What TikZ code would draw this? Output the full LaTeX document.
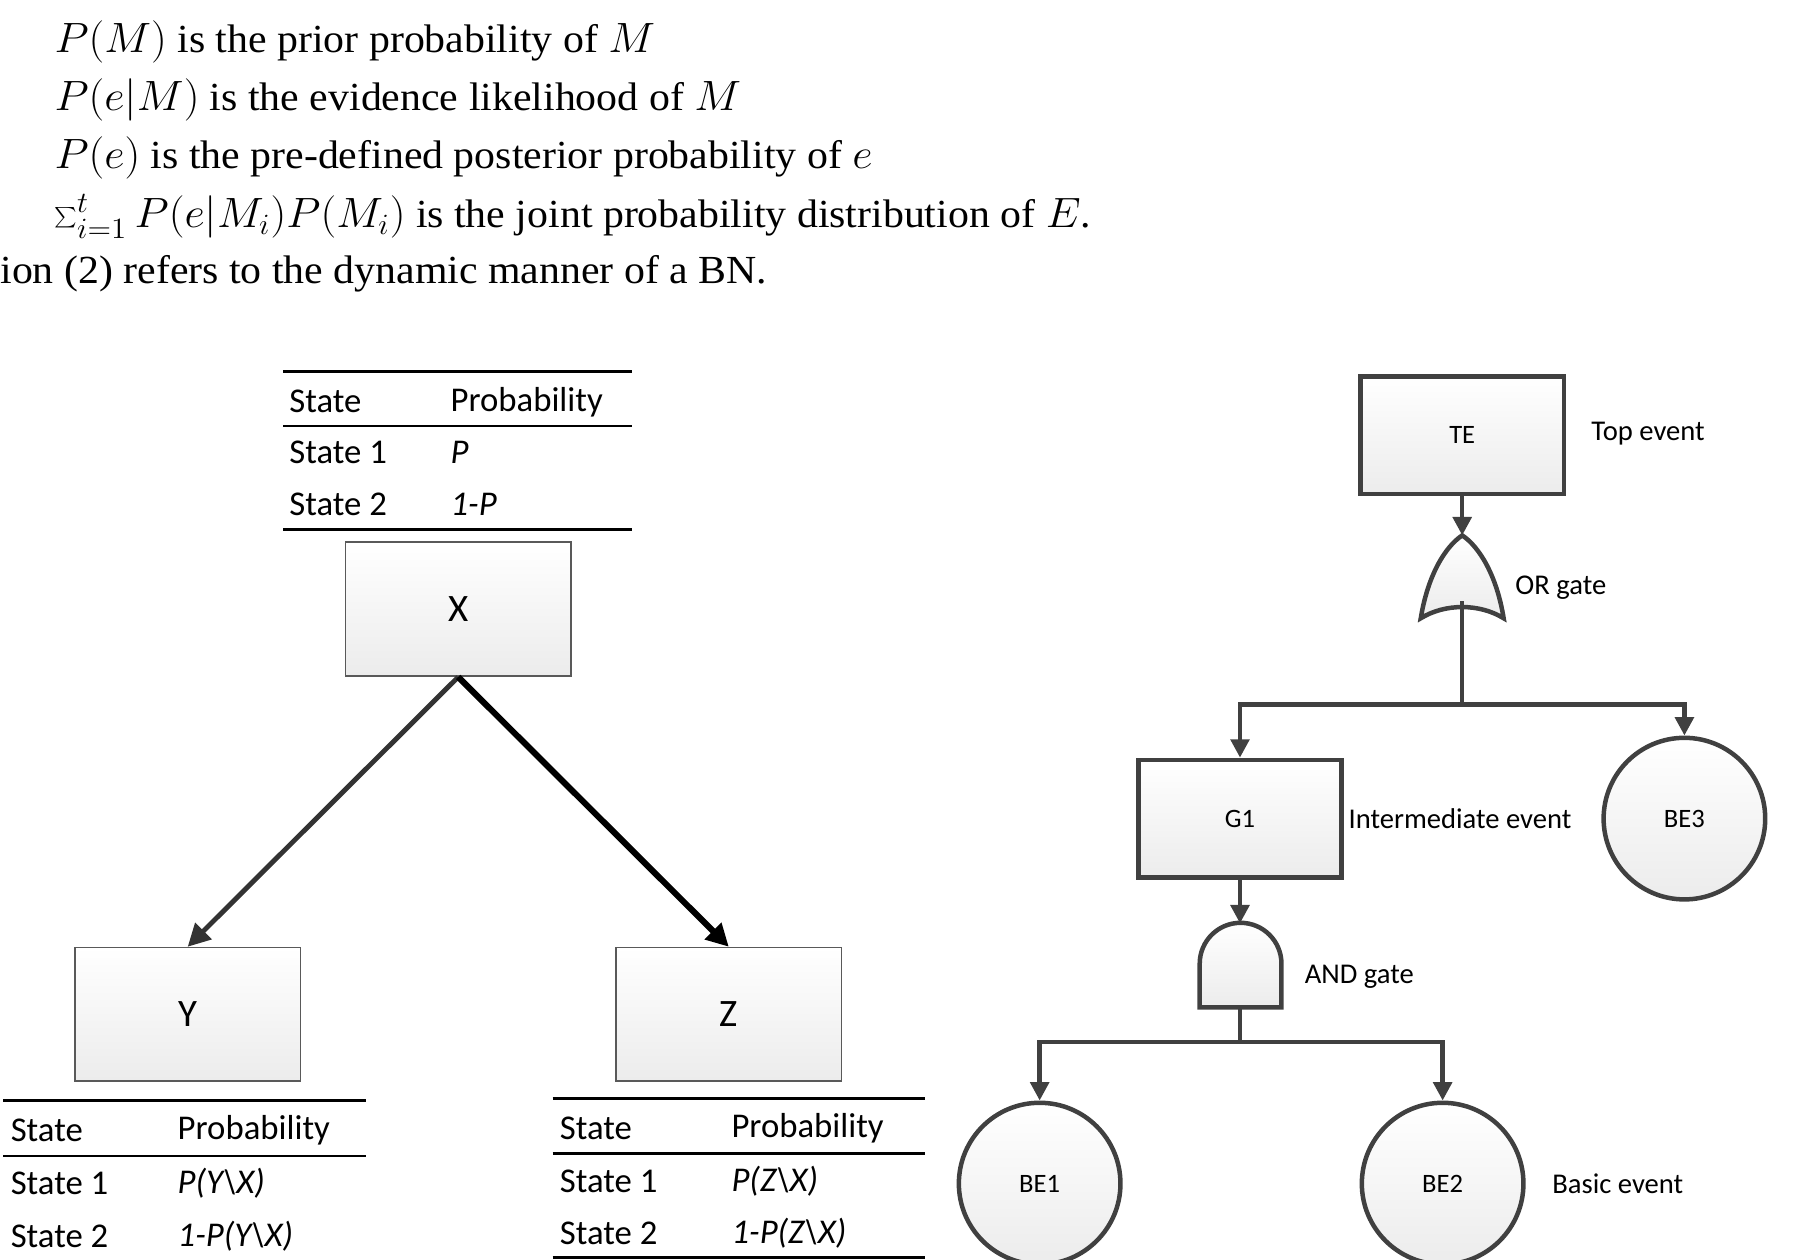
\documentclass[tikz,border=0pt]{standalone}
\usepackage{fontspec}
\setmainfont{Liberation Serif}
\newfontfamily\calfam{Carlito}
\usetikzlibrary{arrows.meta,positioning}

\begin{document}
\begin{tikzpicture}[
  x=0.0198cm, y=-0.0198cm,
  box/.style={draw=gray!70!black, line width=0.7pt, top color=white, bottom color=gray!15, minimum width=3.88cm, minimum height=2.3cm, font=\calfam\fontsize{19}{21}\selectfont},
  ftbox/.style={draw=black!75, line width=2.2pt, top color=white, bottom color=gray!15, minimum width=3.5cm, minimum height=2.02cm, font=\calfam\fontsize{13}{15}\selectfont},
  ftcirc/.style={circle, draw=black!75, line width=2.2pt, top color=white, bottom color=gray!15, minimum size=2.78cm, font=\calfam\fontsize{13}{15}\selectfont},
  lbl/.style={font=\calfam\fontsize{14}{16}\selectfont, anchor=west},
  cell/.style={font=\calfam\fontsize{17}{19}\selectfont, anchor=west, inner sep=0pt},
  txt/.style={font=\fontsize{19.5}{21}\selectfont, anchor=west, inner sep=0pt, xscale=1.05, transform shape},
  bn/.style={-{Triangle[length=11pt,width=11pt]}, line width=2.4pt, black!80},
  ft/.style={-{Triangle[length=9pt,width=9pt]}, line width=2.2pt, black!75},
  ln/.style={line width=2.2pt, black!75}
]
\useasboundingbox (0,0) rectangle (1566,1094);

% Text above the picture
\node[txt] (t1) at (47,36) {$P(M)$ is the prior probability of $M$};
\node[txt] (t2) at (47,87) {$P(e|M)$ is the evidence likelihood of $M$};
\node[txt] (t3) at (47,137) {$P(e)$ is the pre-defined posterior probability of $e$};
\node[txt] (t4) at (47,188) {$\sum_{i=1}^{t} P(e|M_i)P(M_i)$ is the joint probability distribution of $E$.};
\node[txt] (t5) at (0,238) {ion (2) refers to the dynamic manner of a BN.};

% Bayesian network
\node[box] (X) at (398,529) {X};
\node[box] (Y) at (163,881) {Y};
\node[box] (Z) at (633,881) {Z};
\coordinate (xb) at (398,588);
\draw[bn] (xb) -- (Y.north);
\draw[bn, line width=3pt, black] (xb) -- (Z.north);

% Table of X
\draw[line width=1.4pt] (246,323) -- (549,323) (246,370) -- (549,370) (246,460) -- (549,460);
\node[cell] (xs0) at (251,349) {State};
\node[cell] (xp0) at (391,349) {Probability};
\node[cell] (xs1) at (251,393) {State 1};
\node[cell] (xp1) at (391,393) {\itshape P};
\node[cell] (xs2) at (251,438) {State 2};
\node[cell] (xp2) at (391,438) {\itshape 1-P};

% Table of Y
\draw[line width=1.4pt] (3,956) -- (318,956) (3,1004) -- (318,1004);
\node[cell] (ys0) at (9,982) {State};
\node[cell] (yp0) at (154,982) {Probability};
\node[cell] (ys1) at (9,1028) {State 1};
\node[cell] (yp1) at (154,1028) {\itshape P(Y\textbackslash X)};
\node[cell] (ys2) at (9,1074) {State 2};
\node[cell] (yp2) at (154,1074) {\itshape 1-P(Y\textbackslash X)};

% Table of Z
\draw[line width=1.4pt] (480,954) -- (803,954) (480,1002) -- (803,1002) (480,1092) -- (803,1092);
\node[cell] (zs0) at (486,980) {State};
\node[cell] (zp0) at (635,980) {Probability};
\node[cell] (zs1) at (486,1026) {State 1};
\node[cell] (zp1) at (635,1026) {\itshape P(Z\textbackslash X)};
\node[cell] (zs2) at (486,1071) {State 2};
\node[cell] (zp2) at (635,1071) {\itshape 1-P(Z\textbackslash X)};

% Fault tree
\node[ftbox] (TE) at (1270,378) {TE};
\node[ftbox] (G1) at (1077,711) {G1};
\node[ftcirc] (BE3) at (1463,711) {BE3};
\node[ftcirc] (BE1) at (903,1028) {BE1};
\node[ftcirc] (BE2) at (1253,1028) {BE2};

% OR gate
\coordinate (or) at (1270,465);
\coordinate (orb) at (1270,522);
\draw[ln, top color=white, bottom color=gray!15] (1234,537) .. controls (1240,500) and (1255,475) .. (or)
  .. controls (1285,475) and (1300,500) .. (1306,537)
  .. controls (1285,524) and (1255,524) .. (1234,537) -- cycle;
% AND gate
\coordinate (and) at (1077,802);
\coordinate (andb) at (1077,875);
\draw[ln, top color=white, bottom color=gray!15] (1042,875) -- (1042,837) arc[start angle=180, end angle=360, radius=35.5] -- (1113,875) -- cycle;

\coordinate (j1) at (1270,612);
\coordinate (j2) at (1077,905);
\draw[ft] (TE) -- (or);
\draw[ln] (orb) -- (j1);
\draw[ft] (j1) -| (G1.north);
\draw[ft] (j1) -| (BE3.north);
\draw[ft] (G1) -- (and);
\draw[ln] (andb) -- (j2);
\draw[ft] (j2) -| (BE1.north);
\draw[ft] (j2) -| (BE2.north);

\node[lbl] (lte) at (1376,377) {Top event};
\node[lbl] (lor) at (1310,510) {OR gate};
\node[lbl] (lg1) at (1165,711) {Intermediate event};
\node[lbl] (land) at (1127,848) {AND gate};
\node[lbl] (lbe) at (1342,1028) {Basic event};
\end{tikzpicture}
\end{document}
